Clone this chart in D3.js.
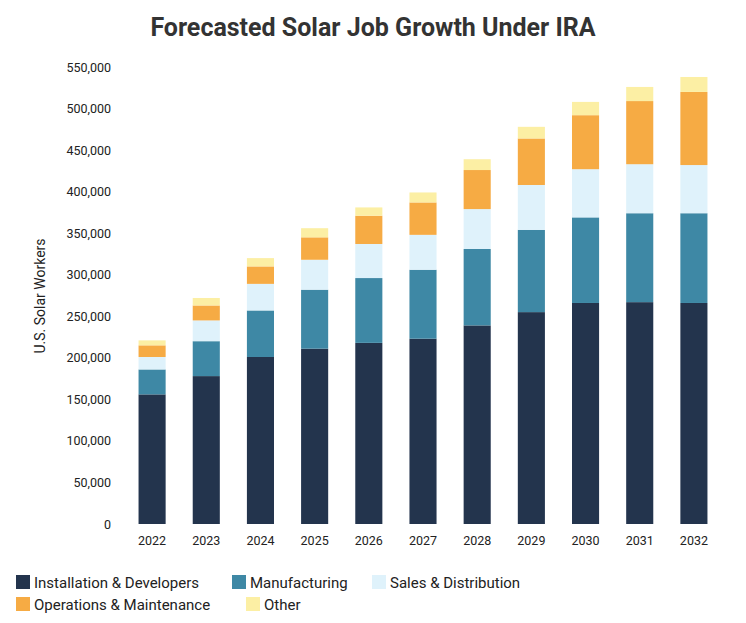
<!DOCTYPE html>
<html><head><meta charset="utf-8">
<script src="https://cdn.jsdelivr.net/npm/d3@7"></script>
<style>body{margin:0;background:#fff;font-family:Roboto,"Noto Sans",sans-serif}</style>
</head><body><svg id="c" width="746" height="623"></svg>
<script>
var years = ["2022","2023","2024","2025","2026","2027","2028","2029","2030","2031","2032"];
var installation = [156,178,201,211,218,223,239,255,266,267,266];
var manufacturing = [30,42,56,71,78,83,92,99,103,107,108];
var sales = [15,25,32,36,41,42,48,54,58,59,58];
var operations = [14,18,21,27,34,39,47,56,65,76,88];
var other = [6,9,10,11,10,12,13,14,16,17,18];
var seriesNames = ["Installation & Developers","Manufacturing","Sales & Distribution","Operations & Maintenance","Other"];
var colors = ["#23344d","#3e88a5","#dff2fb","#f6ab44","#fcefa4"];

var svg = d3.select("#c");
var rows = years.map(function(y,i){
  return {year:y, s0:installation[i]*1000, s1:manufacturing[i]*1000, s2:sales[i]*1000, s3:operations[i]*1000, s4:other[i]*1000};
});
var stack = d3.stack().keys(["s0","s1","s2","s3","s4"])(rows);

var x = d3.scaleBand().domain(years).range([125,721]).paddingInner(0.5).paddingOuter(0.25);
var y = d3.scaleLinear().domain([0,550000]).range([524,67]);

svg.append("text").attr("x",373).attr("y",36).attr("text-anchor","middle")
  .attr("font-size",25).attr("font-weight","bold").attr("fill","#333").text("Forecasted Solar Job Growth Under IRA");

var ya = svg.append("g").attr("transform","translate(115,0)")
  .call(d3.axisLeft(y).tickValues(d3.range(0,550001,50000)).tickFormat(d3.format(",")).tickSize(0).tickPadding(4));
ya.select(".domain").remove();
ya.selectAll("text").attr("font-size",12.5).attr("fill","#222").attr("font-family","Roboto");

var xa = svg.append("g").attr("transform","translate(0,524)")
  .call(d3.axisBottom(x).tickSize(0).tickPadding(12));
xa.select(".domain").remove();
xa.selectAll("text").attr("font-size",12.5).attr("fill","#222").attr("font-family","Roboto");

svg.append("text").attr("transform","translate(45,296) rotate(-90)").attr("text-anchor","middle")
  .attr("font-size",14).attr("fill","#222").text("U.S. Solar Workers");

svg.selectAll("g.layer").data(stack).enter().append("g").attr("fill",function(d,i){return colors[i];})
  .selectAll("rect").data(function(d){return d;}).enter().append("rect")
  .attr("x",function(d){return x(d.data.year);}).attr("width",x.bandwidth())
  .attr("y",function(d){return y(d[1]);}).attr("height",function(d){return y(d[0])-y(d[1]);});

var legendPos = [[16,582],[232,582],[372,582],[16,604],[246,604]];
var lg = svg.selectAll("g.lg").data(seriesNames).enter().append("g")
  .attr("transform",function(d,i){return "translate("+legendPos[i][0]+","+legendPos[i][1]+")";});
lg.append("rect").attr("x",0).attr("y",-7).attr("width",14).attr("height",14).attr("fill",function(d,i){return colors[i];});
lg.append("text").attr("x",18).attr("y",5.5).attr("font-size",15).attr("fill","#222").text(function(d){return d;});
</script></body></html>
